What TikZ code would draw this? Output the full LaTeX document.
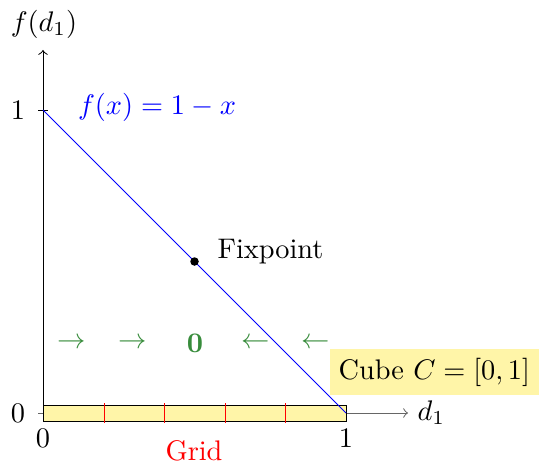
\documentclass[tikz,border=0pt]{standalone}
\definecolor{arrgreen}{RGB}{56,140,60}
\definecolor{cubefill}{RGB}{255,245,168}
\begin{document}
\begin{tikzpicture}[x=0.353pt,y=-0.353pt,line width=0.35pt,
  lbl/.style={inner sep=0pt},
  flow/.style={text=arrgreen,inner sep=0pt},
  gridtick/.style={red,line width=0.35pt}]
\useasboundingbox (0,0) rectangle (539,466);
% coordinates
\coordinate (O) at (43,413);
\coordinate (Xend) at (408,413);
\coordinate (Yend) at (43,50);
\coordinate (X1) at (346,413);
\coordinate (Y1) at (43,110);
% axes
\draw[->,black!60] (O) -- (Xend);
\draw[->] (O) -- (Yend);
\draw (38,110) -- (48,110);
\draw[black!60] (38,413) -- (48,413);
% cube rectangle
\draw[fill=cubefill] (43,405) rectangle (346,421);
\foreach \x in {104,164,225,285} \draw[gridtick] (\x,403) -- (\x,423);
% line
\draw[blue] (Y1) -- (X1);
\node[circle,fill=black,inner sep=0pt,minimum size=3pt] (fp) at (194.5,261.5) {};
% labels
\node[lbl] (fy) at (44,24) {$f(d_1)$};
\node[lbl] (ly1) at (18,110) {$1$};
\node[lbl] (ly0) at (18,413) {$0$};
\node[lbl] (lx0) at (43,438) {$0$};
\node[lbl] (lx1) at (346,438) {$1$};
\node[lbl,anchor=west] (dl) at (417,413) {$d_1$};
\node[lbl,text=blue] (fx) at (157,107) {$f(x)=1-x$};
\node[lbl,anchor=west] (fpl) at (217,252) {Fixpoint};
\node[fill=cubefill,anchor=east,inner xsep=3pt,inner ysep=3pt] (cube) at (539,372) {Cube $C=[0,1]$};
\node[lbl,text=red] (grid) at (194,451) {Grid};
\node[flow] (a1) at (72,343) {$\rightarrow$};
\node[flow] (a2) at (133,343) {$\rightarrow$};
\node[flow] (a3) at (195,343) {$\mathbf{0}$};
\node[flow] (a4) at (256,343) {$\leftarrow$};
\node[flow] (a5) at (316,343) {$\leftarrow$};
\end{tikzpicture}
\end{document}
